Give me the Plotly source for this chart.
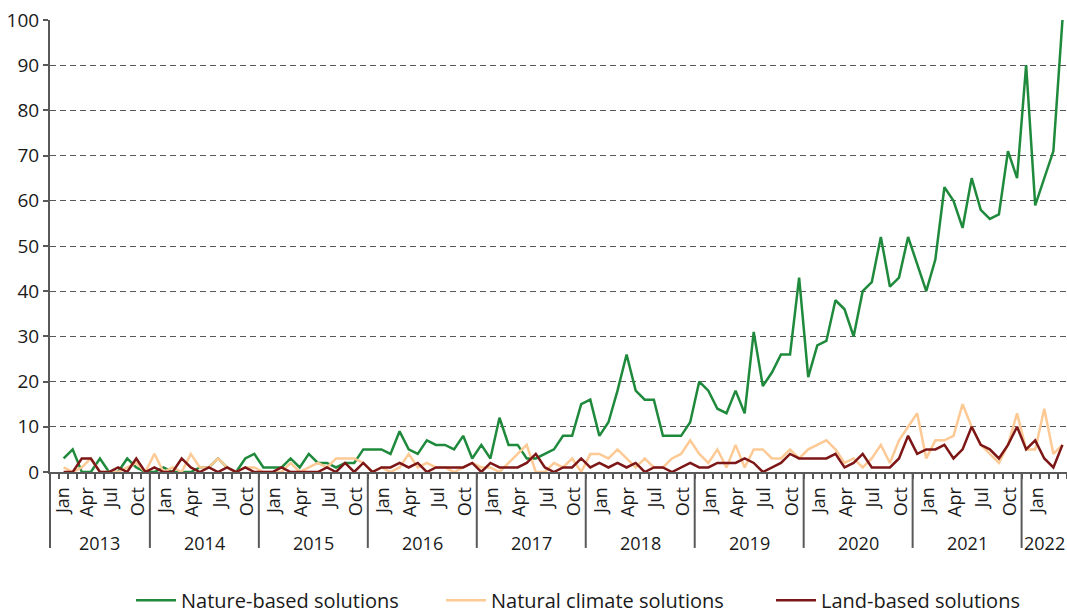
import plotly.graph_objects as go

# ---------------- data (monthly, Jan 2013 .. Mar 2022) ----------------
nature_based = [3, 5, 0, 0, 3, 0, 0, 3, 1, 0, 0, 1, 0, 0, 0, 1, 1, 3, 1, 0,
                3, 4, 1, 1, 1, 3, 1, 4, 2, 2, 1, 2, 2, 5, 5, 5, 4, 9, 5, 4,
                7, 6, 6, 5, 8, 3, 6, 3, 12, 6, 6, 3, 3, 4, 5, 8, 8, 15, 16, 8,
                11, 18, 26, 18, 16, 16, 8, 8, 8, 11, 20, 18, 14, 13, 18, 13, 31, 19, 22, 26,
                26, 43, 21, 28, 29, 38, 36, 30, 40, 42, 52, 41, 43, 52, 46, 40, 47, 63, 60, 54,
                65, 58, 56, 57, 71, 65, 90, 59, 65, 71, 100]
natural_climate = [1, 0, 1, 3, 0, 0, 0, 1, 2, 0, 4, 0, 1, 0, 4, 1, 1, 3, 1, 0,
                   1, 1, 0, 0, 0, 2, 0, 1, 2, 1, 3, 3, 3, 2, 0, 1, 0, 1, 4, 1,
                   2, 1, 1, 0, 1, 2, 1, 1, 0, 2, 4, 6, 0, 0, 2, 1, 3, 0, 4, 4,
                   3, 5, 3, 1, 3, 1, 1, 3, 4, 7, 4, 2, 5, 1, 6, 1, 5, 5, 3, 3,
                   5, 3, 5, 6, 7, 5, 2, 3, 1, 3, 6, 2, 7, 10, 13, 3, 7, 7, 8, 15,
                   10, 6, 4, 2, 6, 13, 5, 5, 14, 4, 6]
land_based = [0, 0, 3, 3, 0, 0, 1, 0, 3, 0, 1, 0, 0, 3, 1, 0, 1, 0, 1, 0,
              1, 0, 0, 0, 1, 0, 0, 0, 0, 1, 0, 2, 0, 2, 0, 1, 1, 2, 1, 2,
              0, 1, 1, 1, 1, 2, 0, 2, 1, 1, 1, 2, 4, 1, 0, 1, 1, 3, 1, 2,
              1, 2, 1, 2, 0, 1, 1, 0, 1, 2, 1, 1, 2, 2, 2, 3, 2, 0, 1, 2,
              4, 3, 3, 3, 3, 4, 1, 2, 4, 1, 1, 1, 3, 8, 4, 5, 5, 6, 3, 5,
              10, 6, 5, 3, 6, 10, 5, 7, 3, 1, 6]

series_names = ["Nature-based solutions", "Natural climate solutions", "Land-based solutions"]
series_colors = ["#1f8a3c", "#fdca96", "#7d1616"]

year_labels = ["2013", "2014", "2015", "2016", "2017", "2018", "2019", "2020", "2021", "2022"]
month_labels = ["Jan", "Apr", "Jul", "Oct"]
month_labels_2022 = ["Jan"]

# ---------------- category layout (slot index units) ----------------
x_idx = list(range(len(nature_based)))
axis_start, axis_end = -1.5, len(nature_based) - 0.5
year_bounds = [axis_start] + [9.5 + 12 * k for k in range(9)] + [axis_end]
year_centers = [(a + b) / 2 for a, b in zip(year_bounds[:-1], year_bounds[1:])]

tickvals, ticktext = [], []
first_year_pos = [-0.1, 2.55, 5.2, 8.2]
for p, m in zip(first_year_pos, month_labels):
    tickvals.append(p); ticktext.append(m)
for k in range(1, 9):
    base = year_bounds[k]
    for j, m in enumerate(month_labels):
        tickvals.append(base + 1.5 + 3 * j + 0.2); ticktext.append(m)
tickvals.append(year_bounds[9] + 1.5 + 0.2); ticktext.append(month_labels_2022[0])

minor_vals = [axis_start + k for k in range(int(axis_end - axis_start) + 1)]

AXIS = "#595959"
TXT = "#1a1a1a"
FONT = "Open Sans"

legend_ids = ["legend", "legend2", "legend3"]
legend_x = [0.1228, 0.4133, 0.7226]

fig = go.Figure()
for name, ys, col, lid in zip(series_names, [nature_based, natural_climate, land_based],
                              series_colors, legend_ids):
    fig.add_trace(go.Scatter(x=x_idx, y=ys, mode="lines", name=name, legend=lid,
                             line=dict(color=col, width=2.5), hoverinfo="skip"))

# year divider lines below the axis
shapes = []
for b in year_bounds[1:-1]:
    shapes.append(dict(type="line", xref="x", yref="paper", x0=b, x1=b, y0=0, y1=-0.168,
                       line=dict(color=AXIS, width=2), layer="above"))
shapes.append(dict(type="line", xref="paper", yref="paper", x0=0, x1=0, y0=0, y1=-0.168,
                   line=dict(color=AXIS, width=2), layer="above"))

annotations = []
for c, yl in zip(year_centers, year_labels):
    annotations.append(dict(x=c, y=-0.157, xref="x", yref="paper", text=yl, showarrow=False,
                            xanchor="center", yanchor="middle", font=dict(size=18, color=TXT, family=FONT)))

legend_common = dict(orientation="h", xref="container", yref="container", xanchor="left",
                     y=0.021, yanchor="middle", itemwidth=40, bgcolor="rgba(0,0,0,0)",
                     font=dict(size=20, color=TXT, family=FONT))

fig.update_layout(
    template="none",
    width=1067, height=613,
    margin=dict(l=50, r=0, t=20, b=141, autoexpand=False),
    paper_bgcolor="white", plot_bgcolor="white",
    font=dict(family=FONT, color=TXT, size=18),
    shapes=shapes, annotations=annotations,
    showlegend=True,
    legend=dict(x=legend_x[0], **legend_common),
    legend2=dict(x=legend_x[1], **legend_common),
    legend3=dict(x=legend_x[2], **legend_common),
    xaxis=dict(range=[axis_start, axis_end], tickmode="array", tickvals=tickvals, ticktext=ticktext,
               tickangle=-90, ticks="", showgrid=False, zeroline=False, automargin=False,
               showline=True, linecolor=AXIS, linewidth=2, ticklabelstandoff=6,
               tickfont=dict(size=18, color=TXT, family=FONT),
               minor=dict(tickmode="array", tickvals=minor_vals, ticks="outside", ticklen=5,
                          tickcolor=AXIS, tickwidth=1.5, showgrid=False)),
    yaxis=dict(range=[0, 100], dtick=10, tick0=0, showgrid=True, gridcolor=AXIS, gridwidth=1,
               griddash="6px,4px", zeroline=False, showline=True, linecolor=AXIS, linewidth=2,
               ticks="outside", ticklen=5, tickcolor=AXIS, tickwidth=1.5, automargin=False,
               tickfont=dict(size=19, color=TXT, family=FONT)),
)

fig.write_html("out.html", config={"displayModeBar": False},
               post_script="document.body.style.margin='0';document.body.style.overflow='hidden';")
